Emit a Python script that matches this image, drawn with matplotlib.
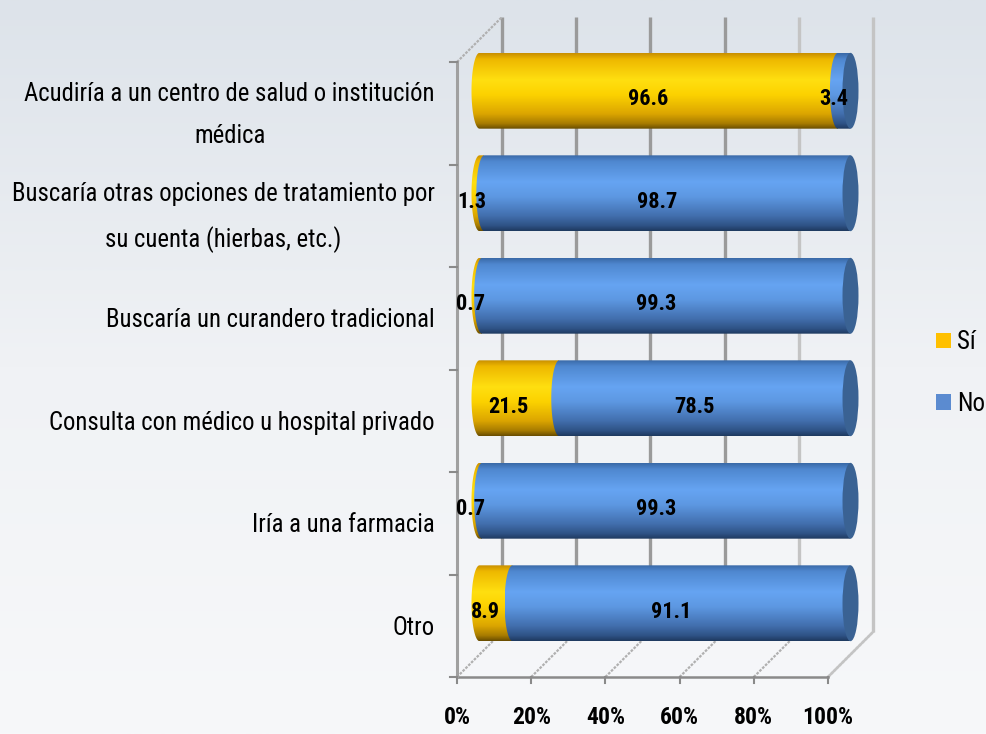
import numpy as np
import matplotlib.pyplot as plt
from matplotlib import font_manager
from matplotlib.colors import LinearSegmentedColormap
from matplotlib.patches import PathPatch, Ellipse, Patch
from matplotlib.path import Path

# busca una letra estrecha entre las instaladas
fuentes = font_manager.fontManager.ttflist
estrechas = ["Liberation Sans Narrow", "Roboto Condensed", "Open Sans Condensed",
             "Noto Sans Condensed", "DejaVu Sans Condensed"]
familia, estiramiento = "Liberation Sans", "normal"
for nombre in estrechas:
    if any(f.name == nombre for f in fuentes):
        familia = nombre
        break
else:
    for nombre in ["Noto Sans", "Roboto", "Open Sans", "DejaVu Sans"]:
        if any(f.name == nombre and f.stretch in ("condensed", "semi-condensed", "extra-condensed")
               for f in fuentes):
            familia, estiramiento = nombre, "condensed"
            break

plt.rcParams["font.family"] = [familia, "DejaVu Sans"]
plt.rcParams["font.stretch"] = estiramiento
narrow = familia != "Liberation Sans"

# categorías de arriba hacia abajo
categorias = [
    "Acudiría a un centro de salud o institución\nmédica",
    "Buscaría otras opciones de tratamiento por\nsu cuenta (hierbas, etc.)",
    "Buscaría un curandero tradicional",
    "Consulta con médico u hospital privado",
    "Iría a una farmacia",
    "Otro",
]
si = [96.6, 1.3, 0.7, 21.5, 0.7, 8.9]
no = [3.4, 98.7, 99.3, 78.5, 99.3, 91.1]
ticks = [0, 20, 40, 60, 80, 100]
tick_labels = ["0%", "20%", "40%", "60%", "80%", "100%"]

W, H = 987, 734
fig = plt.figure(figsize=(W / 100, H / 100), dpi=100)

# fondo con degradado suave
bg = fig.add_axes([0, 0, 1, 1], zorder=-10)
bg.imshow(np.linspace(0, 1, 256).reshape(-1, 1), aspect="auto",
          cmap=LinearSegmentedColormap.from_list("bg", ["#dde3ea", "#f0f2f5", "#f7f8fa"]),
          extent=[0, 1, 0, 1], origin="upper")
bg.axis("off")

# plano frontal del gráfico (en píxeles)
x0_px, x1_px, ytop_px, ybot_px = 457, 828, 62, 677
ax = fig.add_axes([x0_px / W, (H - ybot_px) / H, (x1_px - x0_px) / W, (ybot_px - ytop_px) / H])
ax.set_xlim(0, 100)
ax.set_ylim(0, 6)
ax.axis("off")

px_x = (x1_px - x0_px) / 100.0
px_y = (ybot_px - ytop_px) / 6.0
DX, DY = 45 / px_x, 45 / px_y   # profundidad de la caja 3D
R = 8 / px_x                    # semieje de las tapas elípticas
BH = 0.74                       # alto de cada cilindro

cmap_si = LinearSegmentedColormap.from_list("si", [
    (0.0, "#c99000"), (0.08, "#eeb800"), (0.35, "#ffdf10"), (0.55, "#fcd200"),
    (0.8, "#dca600"), (0.93, "#a87c00"), (1.0, "#6a4e00")])
cmap_no = LinearSegmentedColormap.from_list("no", [
    (0.0, "#3a6aa8"), (0.08, "#4f88d0"), (0.35, "#66a4f2"), (0.55, "#5d98e2"),
    (0.8, "#426fae"), (0.93, "#2f5386"), (1.0, "#1f3a60")])
cap_color = "#3a6293"

gris = "#9a9a9a"
gris_claro = "#c4c4c4"

# líneas de la pared del fondo
for t in ticks:
    c = gris if t < 80 else gris_claro
    ax.plot([t + DX, t + DX], [DY, 6 + DY], color=c, lw=2.4, zorder=1,
            clip_on=False, solid_capstyle="butt")

# suelo: líneas diagonales
for t in ticks:
    ax.plot([t, t + DX], [0, DY], color="#b0b0b0", lw=1.6, ls=(0, (1.2, 0.6)),
            zorder=1, clip_on=False)

# ejes frontales
ax.plot([0, 100], [0, 0], color="#8a8a8a", lw=1.8, zorder=2, clip_on=False)
ax.plot([0, 0], [0, 6], color="#a0a0a0", lw=2.2, zorder=2, clip_on=False)
ax.plot([0, DX], [6, 6 + DY], color="#b0b0b0", lw=1.6, ls=(0, (1.2, 0.6)), zorder=1, clip_on=False)
ax.plot([100, 100 + DX], [0, DY], color=gris_claro, lw=1.8, zorder=1, clip_on=False)
for t in ticks:
    ax.plot([t, t], [0, -6 / px_y], color="#8a8a8a", lw=1.5, clip_on=False, zorder=2)
for k in range(7):
    ax.plot([0, -7 / px_x], [k, k], color="#8a8a8a", lw=1.5, clip_on=False, zorder=2)


def cuerpo(xa, xb, yc):
    # media elipse a la izquierda + rectángulo hasta xb
    th = np.linspace(np.pi / 2, 3 * np.pi / 2, 40)
    pts = [(xa + R * np.cos(a), yc + BH / 2 * np.sin(a)) for a in th]
    pts += [(xb, yc - BH / 2), (xb, yc + BH / 2), pts[0]]
    return Path(pts, closed=True)


def segmento(xa, xb, yc, cmap, z):
    patch = PathPatch(cuerpo(xa, xb, yc), transform=ax.transData,
                      facecolor="none", edgecolor="none")
    im = ax.imshow(np.linspace(0, 1, 128).reshape(-1, 1), cmap=cmap, aspect="auto",
                   extent=[xa - R, xb, yc - BH / 2, yc + BH / 2], origin="upper",
                   zorder=z, interpolation="bilinear")
    im.set_clip_path(patch)
    im.set_clip_box(fig.bbox)


for i, cat in enumerate(categorias):
    yc_front = 5.5 - i
    yc = yc_front + DY / 2
    xs = DX / 2
    segmento(xs, xs + si[i], yc, cmap_si, 5 + i * 0.1)
    segmento(xs + si[i], xs + si[i] + no[i], yc, cmap_no, 5.02 + i * 0.1)
    ax.add_patch(Ellipse((xs + si[i] + no[i], yc), 2 * R, BH, facecolor=cap_color,
                         edgecolor="none", zorder=5.04 + i * 0.1, clip_on=False))

    # etiquetas de valores
    dxl, dyl = 12 / px_x, 14 / px_y
    for val, start in ((si[i], 0), (no[i], si[i])):
        ax.text(start + val / 2 + dxl, yc_front + dyl, f"{val:.1f}", ha="center",
                va="center", fontsize=16 if narrow else 15, fontweight="bold",
                color="black", zorder=20)

    ax.text(-22 / px_x, yc_front - 2 / px_y, cat, ha="right", va="center",
            multialignment="center", fontsize=17.8 if narrow else 15.5, color="black",
            linespacing=1.95)

for t, lab in zip(ticks, tick_labels):
    ax.text(t, -41 / px_y, lab, ha="center", va="center",
            fontsize=17 if narrow else 15, fontweight="bold")

ax.set_xlim(0, 100)
ax.set_ylim(0, 6)

fig.legend(handles=[Patch(facecolor="#ffc000"), Patch(facecolor="#5b8bd0")],
           labels=["Sí", "No"], loc="center left", bbox_to_anchor=(936 / W, 1 - 373 / H),
           frameon=False, fontsize=18 if narrow else 15, handlelength=0.6, handleheight=0.6,
           handletextpad=0.25, labelspacing=1.5, borderaxespad=0, borderpad=0)

fig.savefig("out.png", dpi=100)
